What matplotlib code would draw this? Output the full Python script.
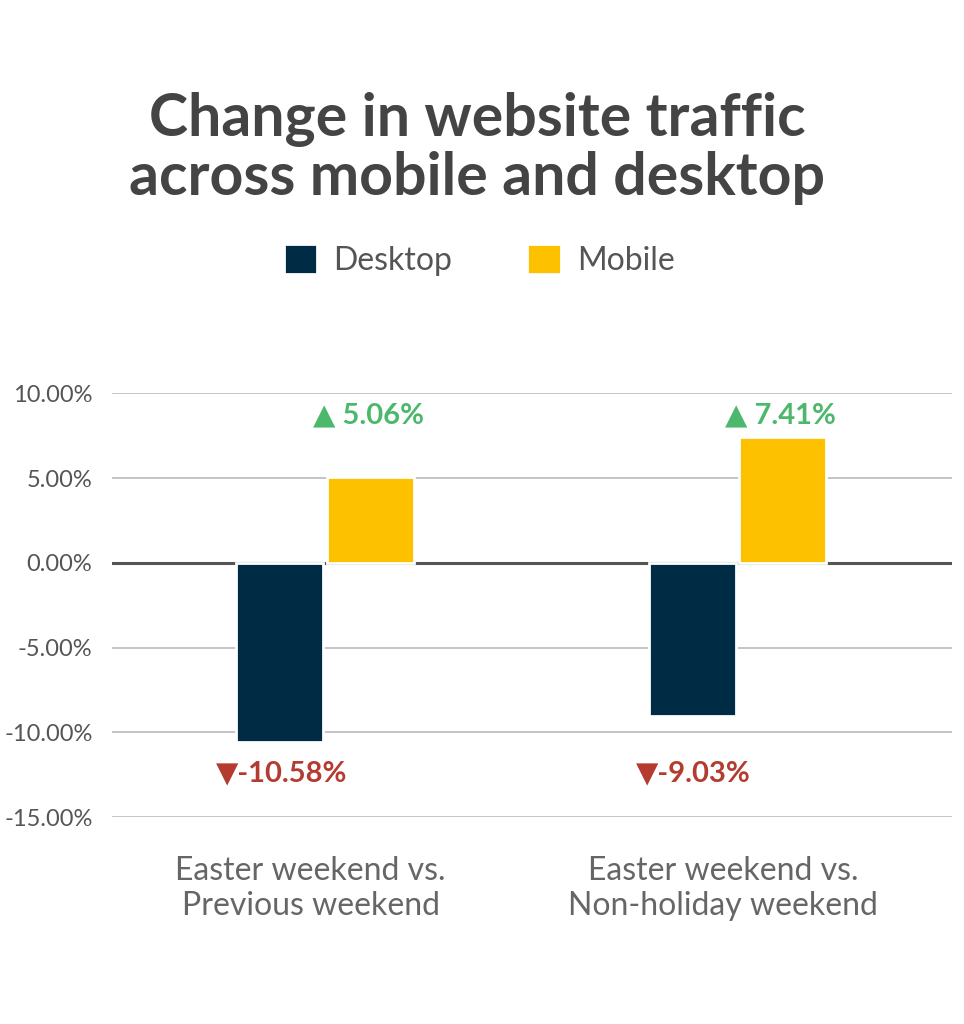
#!/usr/bin/env python3
"""bar chart: change in website traffic across mobile and desktop"""

import matplotlib
matplotlib.use('Agg')
import matplotlib.pyplot as plt
import numpy as np

categories = ['Easter weekend vs.\nPrevious weekend', 'Easter weekend vs.\nNon-holiday weekend']
desktop = [-10.58, -9.03]
mobile = [5.06, 7.41]
yticks = [10, 5, 0, -5, -10, -15]

plt.rcParams['font.family'] = ['Lato', 'DejaVu Sans']

fig = plt.figure(figsize=(9.64, 10.24), dpi=100)
ax = fig.add_axes([0.116, 0.202, 0.872, 0.414])

x = np.arange(len(categories))
w = 0.211

#grid lines
for v in yticks:
    if v == 0:
        continue
    ax.axhline(v, color='#c4c4c4', lw=1.4, zorder=0)
ax.axhline(0, color='#555555', lw=2.2, zorder=0)

#bars
ax.bar(x - w / 2 - 0.004, desktop, w, color='#002b45', edgecolor='white', lw=2, zorder=2, label='Desktop')
ax.bar(x + w / 2 + 0.004, mobile, w, color='#fdc100', edgecolor='white', lw=2, zorder=2, label='Mobile')

#value labels at fixed heights
for i in range(len(categories)):
    ax.text(x[i] + w / 2, 8.7, '\u25B2 %.2f%%' % mobile[i], ha='center', va='center',
            fontsize=21, fontweight='bold', color='#4cb86c', clip_on=False)
    ax.text(x[i] - w / 2, -12.45, '\u25BC-%.2f%%' % abs(desktop[i]), ha='center', va='center',
            fontsize=21, fontweight='bold', color='#b43b2f', clip_on=False)

ax.set_xlim(-0.517, 1.522)
ax.set_ylim(-15, 10)
ax.set_yticks(yticks)
ax.set_yticklabels(['%.2f%%' % v for v in yticks], fontsize=17, color='#555555')
ax.set_xticks(x - 0.035)
ax.set_xticklabels(categories, fontsize=23, color='#666666', linespacing=1.2)
ax.tick_params(axis='both', length=0)
ax.tick_params(axis='y', pad=14)
ax.tick_params(axis='x', pad=28)
for s in ax.spines.values():
    s.set_visible(False)

#title
fig.text(0.495, 0.855, 'Change in website traffic\nacross mobile and desktop', ha='center', va='center',
         fontsize=42.5, fontweight='bold', color='#444444', linespacing=1.08)

#legend
leg = fig.legend(loc='center', bbox_to_anchor=(0.497, 0.746), ncol=2, frameon=False,
                 fontsize=23, handlelength=1.05, handleheight=1.05, columnspacing=2.35,
                 handletextpad=0.5)
for t in leg.get_texts():
    t.set_color('#555555')

plt.savefig('out.png', dpi=100)
